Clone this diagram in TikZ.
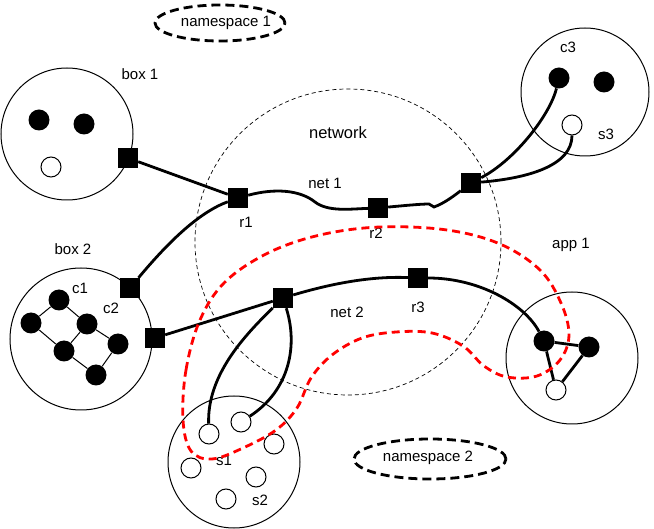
\documentclass[tikz,border=0pt]{standalone}
\usepackage{fontspec}
\setmainfont{Liberation Sans}
\usetikzlibrary{shapes.geometric}
\begin{document}
\begin{tikzpicture}[x=1pt,y=1pt,
  lbl/.style={font=\fontsize{15}{17}\selectfont, inner sep=0pt},
  region/.style={circle, draw, line width=1pt, inner sep=0pt},
  port/.style={rectangle, fill=black, minimum size=20pt, inner sep=0pt},
  fdot/.style={circle, fill=black, minimum size=21pt, inner sep=0pt},
  odot/.style={circle, draw, fill=white, line width=1pt, minimum size=20pt, inner sep=0pt},
  link/.style={line width=2.8pt},
  thinlink/.style={line width=1pt},
  nsbox/.style={ellipse, draw, line width=2.8pt, dash pattern=on 9pt off 5pt, inner sep=0pt},
  netzone/.style={circle, draw, line width=0.7pt, dash pattern=on 4pt off 3pt, inner sep=0pt},
  podloop/.style={draw=red, line width=2.8pt, dash pattern=on 8pt off 5pt}
]
\useasboundingbox (0,0) rectangle (654,-529);

% network zone
\node[netzone, minimum size=306pt] (network) at (348,-242) {};

% regions
\node[region, minimum size=132pt] (box1) at (67,-134) {};
\node[region, minimum size=142pt] (box2) at (81,-339) {};
\node[region, minimum size=132pt] (sbox) at (234,-462) {};
\node[region, minimum size=132pt] (app1) at (572,-358) {};
\node[region, minimum size=128pt] (c3box) at (585,-92) {};

% namespaces
\node[nsbox, minimum width=130pt, minimum height=36pt] (ns1) at (220,-23) {};
\node[lbl] (ns1t) at (226,-23) {namespace 1};
\node[nsbox, minimum width=152pt, minimum height=40pt] (ns2) at (430,-459) {};
\node[lbl] (ns2t) at (428,-458) {namespace 2};

% labels
\node[lbl] (lbox1) at (140,-74) {box 1};
\node[lbl, font=\fontsize{16.5}{18}\selectfont] (lnet) at (338,-133) {network};
\node[lbl] (lc3) at (568,-47) {c3};
\node[lbl] (ls3) at (606,-134) {s3};
\node[lbl] (lnet1) at (325,-183) {net 1};
\node[lbl] (lr1) at (246,-222) {r1};
\node[lbl] (lr2) at (376,-233) {r2};
\node[lbl] (lbox2) at (73,-249) {box 2};
\node[lbl] (lapp1) at (571,-245) {app 1};
\node[lbl] (lc1) at (80,-288) {c1};
\node[lbl] (lc2) at (111,-308) {c2};
\node[lbl] (lnet2) at (347,-312) {net 2};
\node[lbl] (lr3) at (418,-307) {r3};
\node[lbl] (ls1) at (224,-460) {s1};
\node[lbl] (ls2) at (260,-500) {s2};

% box 1 contents
\node[fdot] (b1a) at (39,-120) {};
\node[fdot] (b1b) at (84,-124) {};
\node[odot] (b1c) at (51,-167) {};

% box 2 contents
\node[fdot] (c1) at (59,-300) {};
\node[fdot] (d2) at (31,-323) {};
\node[fdot] (d3) at (87,-324) {};
\node[fdot] (d4) at (64,-351) {};
\node[fdot] (d5) at (118,-344) {};
\node[fdot] (d6) at (96,-375) {};
\draw[thinlink] (c1) -- (d2);
\draw[thinlink] (c1) -- (d3);
\draw[thinlink] (d2) -- (d4);
\draw[thinlink] (d3) -- (d4);
\draw[thinlink] (d3) -- (d5);
\draw[thinlink] (d4) -- (d6);
\draw[thinlink] (d6) -- (d5);

% c3 region contents
\node[fdot] (c3) at (559,-78) {};
\node[fdot] (c3b) at (604,-82) {};
\node[odot] (s3) at (572,-125) {};

% s region contents
\node[odot] (s1a) at (209,-434) {};
\node[odot] (s1b) at (241,-422) {};
\node[odot] (s1c) at (274,-444) {};
\node[odot] (s1d) at (191,-468) {};
\node[odot] (s2a) at (256,-477) {};
\node[odot] (s2b) at (226,-499) {};

% app 1 contents
\node[fdot] (a1) at (544,-341) {};
\node[fdot] (a2) at (589,-347) {};
\node[odot] (a3) at (556,-390) {};

% ports
\node[port] (p1) at (128,-158) {};
\node[port] (r1) at (238,-198) {};
\node[port] (r2) at (378,-208) {};
\node[port] (p3) at (471,-183) {};
\node[port] (p2a) at (130,-288) {};
\node[port] (p2b) at (155,-338) {};
\node[port] (r4) at (283,-298) {};
\node[port] (r3) at (418,-278) {};

% connectors
\draw[link] (p1) -- (r1);
\draw[link] (p2a) .. controls (170,-240) and (200,-212) .. (r1);
\draw[link] (r1) .. controls (275,-188) and (300,-190) .. (315,-202)
   .. controls (328,-212) and (350,-209) .. (r2);
\draw[link] (r2) .. controls (400,-206) and (420,-204) .. (429,-204) -- (434,-207)
   .. controls (445,-203) and (455,-195) .. (p3);
\draw[link] (p3) .. controls (515,-160) and (550,-115) .. (c3);
\draw[link] (p3) .. controls (530,-178) and (572,-165) .. (s3);
\draw[link] (p2b) -- (r4);
\draw[link] (r4) .. controls (330,-284) and (370,-276) .. (r3);
\draw[link] (r3) .. controls (480,-278) and (525,-305) .. (a1);
\draw[link] (r4) .. controls (245,-335) and (207,-375) .. (s1a);
\draw[link] (r4) .. controls (298,-345) and (290,-390) .. (s1b);
\draw[link] (a1) -- (a2);
\draw[link] (a1) -- (a3);
\draw[link] (a2) -- (a3);

% pod loop
\draw[podloop] plot[smooth cycle, tension=0.6] coordinates {
 (183,-420) (186,-370) (200,-320) (225,-282) (268,-253) (320,-235) (380,-227)
 (447,-230) (500,-244) (540,-270) (561,-303) (569,-335) (560,-360) (537,-376)
 (507,-377) (484,-366) (463,-346) (432,-333) (396,-332) (362,-338) (332,-355)
 (311,-378) (297,-408) (276,-430) (243,-448) (212,-459) (191,-451)};
\end{tikzpicture}
\end{document}
